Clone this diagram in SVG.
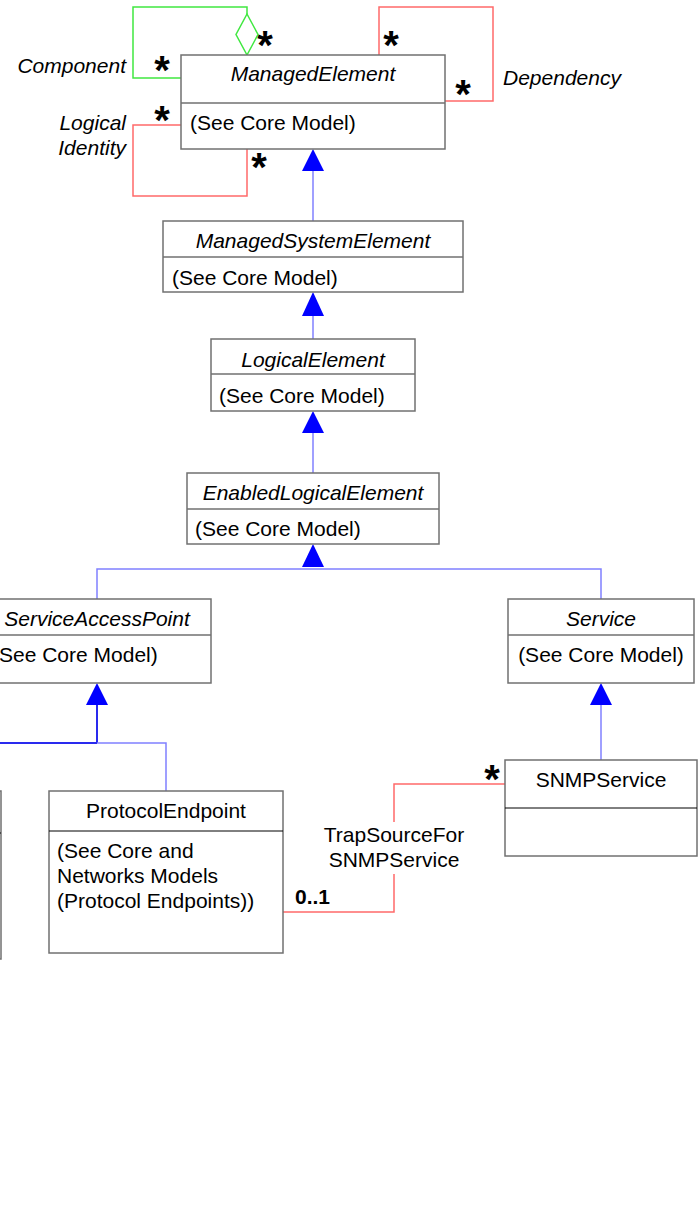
<svg xmlns="http://www.w3.org/2000/svg" width="699" height="1219" viewBox="0 0 699 1219">
<style>
.box{fill:#fff;stroke:#707070;stroke-width:1.5}
.div{stroke:#707070;stroke-width:1.5}
.divb{stroke:#000;stroke-width:1}
.t{font-family:"Liberation Sans",Arial,sans-serif;font-size:21px;fill:#000}
.i{font-style:italic}
.c{text-anchor:middle}
.r{text-anchor:end}
.st{font-family:"Liberation Sans",Arial,sans-serif;font-size:40px;font-weight:bold;fill:#000;text-anchor:middle}
.b{fill:none;stroke:#8080ff;stroke-width:1.5}
.bd{fill:none;stroke:#2a2aee;stroke-width:2}
.ah{fill:#0000ff;stroke:none}
.red{fill:none;stroke:#ff6a6a;stroke-width:1.5}
.grn{fill:none;stroke:#40e840;stroke-width:1.5}
</style>
<rect width="699" height="1219" fill="#fff"/>
<g id="connectors">
<polyline class="grn" points="181,78 133,78 133,7 247,7 247,14"/>
<polygon class="grn" points="247,14 258,34.5 247,55 236,34.5" fill="#fff"/>
<polyline class="red" points="181,125 133,125 133,196 247,196 247,149"/>
<polyline class="red" points="379,55 379,7 493,7 493,101 445,101"/>
<line class="b" x1="313" y1="171" x2="313" y2="221"/>
<polygon class="ah" points="313,149 324,171 302,171"/>
<line class="b" x1="313" y1="316" x2="313" y2="339"/>
<polygon class="ah" points="313,292 324,316 302,316"/>
<line class="b" x1="313" y1="433" x2="313" y2="473"/>
<polygon class="ah" points="313,411 324,433 302,433"/>
<polyline class="b" points="97,599 97,569 601,569 601,599"/>
<polygon class="ah" points="313,544 324,567 302,567"/>
<line class="bd" x1="97" y1="705" x2="97" y2="743"/>
<line class="bd" x1="-5" y1="743" x2="97" y2="743"/>
<polyline class="b" points="97,743 166,743 166,791"/>
<polygon class="ah" points="97,683 108,705 86,705"/>
<line class="b" x1="601" y1="705" x2="601" y2="760"/>
<polygon class="ah" points="601,683 612,705 590,705"/>
<polyline class="red" points="505,784 394,784 394,822"/>
<polyline class="red" points="394,874 394,912 283,912"/>
<text class="st" x="265" y="59">*</text>
<text class="st" x="162" y="84">*</text>
<text class="st" x="162" y="134">*</text>
<text class="st" x="259" y="181">*</text>
<text class="st" x="391" y="59">*</text>
<text class="st" x="463" y="108">*</text>
<text class="st" x="492" y="793">*</text>
<text class="t i r" x="126" y="73">Component</text>
<text class="t i r" x="126" y="130">Logical</text>
<text class="t i r" x="126" y="155">Identity</text>
<text class="t i" x="503" y="85">Dependency</text>
<text class="t c" x="394" y="842">TrapSourceFor</text>
<text class="t c" x="394" y="867">SNMPService</text>
<text class="t" x="295" y="904" font-weight="bold" font-size="20">0..1</text>
</g>
<g id="ManagedElement">
<rect class="box" x="181" y="55" width="264" height="94"/>
<line class="div" x1="181" y1="103" x2="445" y2="103"/>
<text class="t i c" x="313" y="81">ManagedElement</text>
<text class="t" x="190" y="130">(See Core Model)</text>
</g>
<g id="ManagedSystemElement">
<rect class="box" x="163" y="221" width="300" height="71"/>
<line class="div" x1="163" y1="257" x2="463" y2="257"/>
<text class="t i c" x="313" y="248">ManagedSystemElement</text>
<text class="t" x="172" y="285">(See Core Model)</text>
</g>
<g id="LogicalElement">
<rect class="box" x="211" y="339" width="204" height="72"/>
<line class="div" x1="211" y1="374" x2="415" y2="374"/>
<text class="t i c" x="313" y="367">LogicalElement</text>
<text class="t" x="219" y="403">(See Core Model)</text>
</g>
<g id="EnabledLogicalElement">
<rect class="box" x="187" y="473" width="252" height="71"/>
<line class="div" x1="187" y1="509" x2="439" y2="509"/>
<text class="t i c" x="313" y="500">EnabledLogicalElement</text>
<text class="t" x="195" y="536">(See Core Model)</text>
</g>
<g id="ServiceAccessPoint">
<rect class="box" x="-17" y="599" width="228" height="84"/>
<line class="div" x1="-17" y1="635" x2="211" y2="635"/>
<text class="t i c" x="97" y="626">ServiceAccessPoint</text>
<text class="t" x="-8" y="662">(See Core Model)</text>
</g>
<g id="Service">
<rect class="box" x="508" y="599" width="186" height="84"/>
<line class="div" x1="508" y1="635" x2="694" y2="635"/>
<text class="t i c" x="601" y="626">Service</text>
<text class="t c" x="601" y="662">(See Core Model)</text>
</g>
<g id="LeftClass">
<rect class="box" x="-60" y="791" width="61" height="168"/>
<line class="divb" x1="-60" y1="833" x2="1" y2="833"/>
</g>
<g id="ProtocolEndpoint">
<rect class="box" x="49" y="791" width="234" height="162"/>
<line class="divb" x1="49" y1="831" x2="283" y2="831"/>
<text class="t c" x="166" y="818">ProtocolEndpoint</text>
<text class="t" x="57" y="858">(See Core and</text>
<text class="t" x="57" y="883">Networks Models</text>
<text class="t" x="57" y="908">(Protocol Endpoints))</text>
</g>
<g id="SNMPService">
<rect class="box" x="505" y="760" width="192" height="96"/>
<line class="divb" x1="505" y1="808" x2="697" y2="808"/>
<text class="t c" x="601" y="787">SNMPService</text>
</g>
</svg>
